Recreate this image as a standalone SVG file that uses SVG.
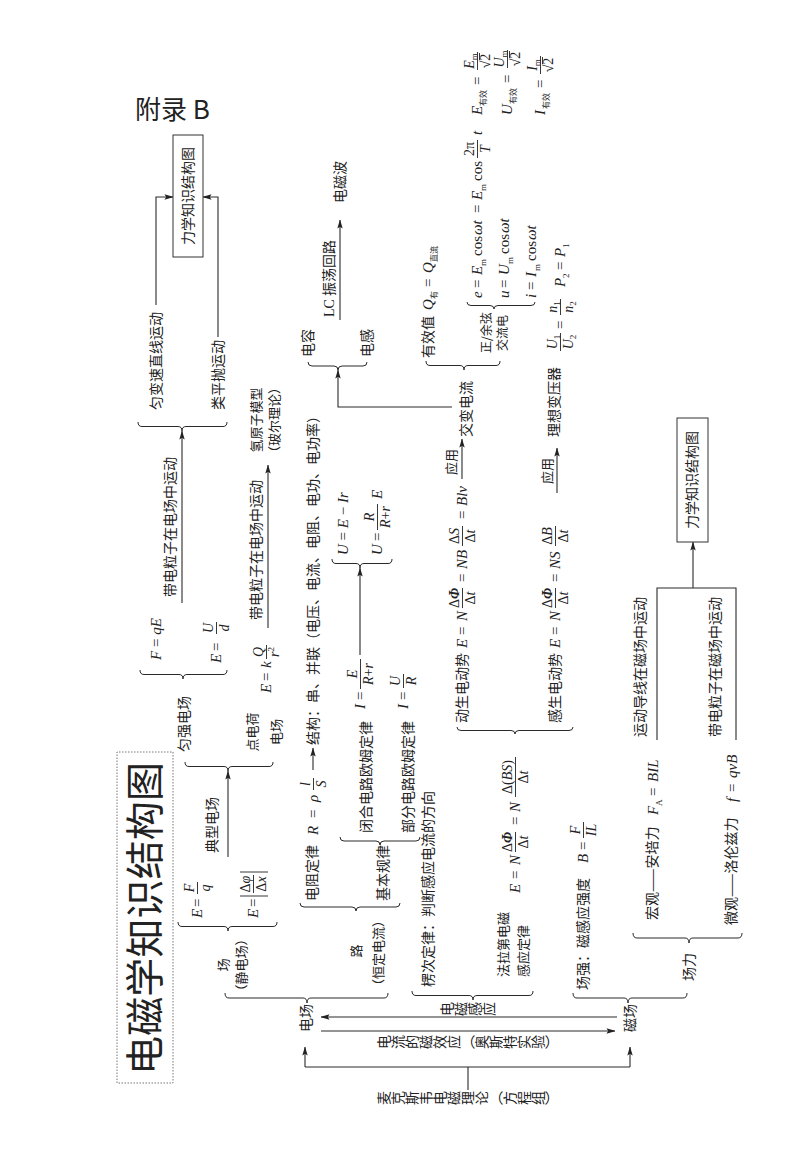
<svg xmlns="http://www.w3.org/2000/svg" width="800" height="1155" viewBox="0 0 800 1155">
<defs>
<style>
.c{font-family:'Noto Sans CJK SC','Liberation Sans',sans-serif;font-size:14px;fill:#222}
.s13{font-size:13px}
.s12{font-size:12px}
.m{font-family:'Liberation Serif','Noto Sans CJK SC',serif;font-style:italic;font-size:15px;fill:#222}
.f{font-size:14px}
.u{font-style:normal}
.sb{font-size:9px;font-style:normal}
.sc{font-family:'Noto Sans CJK SC',sans-serif;font-size:8px;font-style:normal}
.ctr{text-anchor:middle}
.v{writing-mode:vertical-rl}
.ln{fill:none;stroke:#2a2a2a;stroke-width:1.1}
.br{fill:none;stroke:#2a2a2a;stroke-width:1}
.fb{stroke:#222;stroke-width:0.9}
.ar{fill:none;stroke:#2a2a2a;stroke-width:1.1;marker-end:url(#ah)}
.box{fill:#fff;stroke:#333;stroke-width:1}
</style>
<marker id="ah" viewBox="0 0 10 6" refX="9.5" refY="3" markerWidth="9" markerHeight="5.4" orient="auto" markerUnits="userSpaceOnUse"><path d="M0,0 L10,3 L0,6 L2,3 z" fill="#222"/></marker>
</defs>
<rect width="800" height="1155" fill="#fff"/>
<g id="appendix"><text x="135" y="119" style="font-family:'Noto Sans CJK SC',sans-serif;font-size:26px;fill:#222">附录 B</text></g>
<g id="page" transform="translate(0,1155) rotate(-90)">
<g id="connectors">
<path class="ar" d="M138,617 L138,321"/>
<path class="ar" d="M124,321 L124,615"/>
<path class="ln" d="M88,305 L88,630 M88,468 L65,468"/>
<path class="ar" d="M88,305 L108,305"/>
<path class="ar" d="M88,630 L108,630"/>
<path class="ar" d="M298,228 L384,228"/>
<path class="ar" d="M552,182 L724,182"/>
<path class="ar" d="M850,156 L958,156 L958,173"/>
<path class="ar" d="M818,218 L958,218 L958,203"/>
<path class="ar" d="M527,268 L690,268"/>
<path class="ar" d="M385,313 L407,313"/>
<path class="ar" d="M500,360 L587,360"/>
<path class="ar" d="M748,452 L748,338 L785,338"/>
<path class="ar" d="M835,340 L935,340"/>
<path class="ar" d="M676,462 L716,462"/>
<path class="ar" d="M662,557 L707,557"/>
<path class="ln" d="M415,657 L567,657 L567,736 L415,736"/>
<path class="ar" d="M567,693 L613,693"/>
<path class="br" d="M162,225 Q157,225 157,229 L157,303 Q157,307 152,307 Q157,307 157,311 L157,384 Q157,388 162,388"/>
<path class="br" d="M164,412 Q159.5,412 159.5,416 L159.5,469 Q159.5,473 155,473 Q159.5,473 159.5,477 L159.5,529 Q159.5,533 164,533"/>
<path class="br" d="M162,573 Q157,573 157,577 L157,624 Q157,628 152,628 Q157,628 157,632 L157,683 Q157,687 162,687"/>
<path class="br" d="M233,178 Q228.5,178 228.5,182 L228.5,224 Q228.5,228 224,228 Q228.5,228 228.5,232 L228.5,273 Q228.5,277 233,277"/>
<path class="br" d="M393,185 Q388.5,185 388.5,189 L388.5,224 Q388.5,228 384,228 Q388.5,228 388.5,232 L388.5,269 Q388.5,273 393,273"/>
<path class="br" d="M485,140 Q480.5,140 480.5,144 L480.5,179 Q480.5,183 476,183 Q480.5,183 480.5,187 L480.5,223 Q480.5,227 485,227"/>
<path class="br" d="M733,138 Q728.5,138 728.5,142 L728.5,178 Q728.5,182 724,182 Q728.5,182 728.5,186 L728.5,223 Q728.5,227 733,227"/>
<path class="br" d="M252,300 Q248,300 248,304 L248,352 Q248,356 244,356 Q248,356 248,360 L248,396 Q248,400 252,400"/>
<path class="br" d="M318,340 Q314,340 314,344 L314,376 Q314,380 310,380 Q314,380 314,384 L314,416 Q314,420 318,420"/>
<path class="br" d="M596,332 Q591.5,332 591.5,336 L591.5,356 Q591.5,360 587,360 Q591.5,360 591.5,364 L591.5,388 Q591.5,392 596,392"/>
<path class="br" d="M793,308 Q789,308 789,312 L789,334 Q789,338 785,338 Q789,338 789,342 L789,363 Q789,367 793,367"/>
<path class="br" d="M794,426 Q789.5,426 789.5,430 L789.5,460 Q789.5,464 785,464 Q789.5,464 789.5,468 L789.5,496 Q789.5,500 794,500"/>
<path class="br" d="M853,467 Q849.5,467 849.5,471 L849.5,490 Q849.5,494 846,494 Q849.5,494 849.5,498 L849.5,531 Q849.5,535 853,535"/>
<path class="br" d="M428,457 Q424.5,457 424.5,461 L424.5,511 Q424.5,515 421,515 Q424.5,515 424.5,519 L424.5,569 Q424.5,573 428,573"/>
<path class="br" d="M222,633 Q217,633 217,637 L217,685 Q217,689 212,689 Q217,689 217,693 L217,738 Q217,742 222,742"/>
</g>
<g id="title"><rect x="72" y="117" width="331" height="56" fill="none" stroke="#777" stroke-width="1" stroke-dasharray="1.5,1.5"/><text class="c" x="80" y="159" style="font-size:39px" textLength="313">电磁学知识结构图</text></g>
<g id="n-dianchang"><text class="c" x="123" y="311">电场</text></g>
<g id="n-cichang"><text class="c" x="123" y="635">磁场</text></g>
<g id="l-emi"><text class="c v" x="146" y="440">电磁感应</text></g>
<g id="l-oersted"><text class="c v" x="113" y="377">电流的磁效应（奥斯特实验）</text></g>
<g id="n-maxwell"><text class="c v" x="57" y="377">麦克斯韦电磁理论（方程组）</text></g>
<g id="n-chang"><text class="c s13" x="183.5" y="228">场</text><text class="c s13" x="157.5" y="246">（静电场）</text></g>
<g id="f-EFq"><text class="m" y="202"><tspan x="237">E</tspan><tspan class="u" x="248">=</tspan></text><line class="fb" x1="261" y1="197.5" x2="273" y2="197.5"/><text class="m f ctr" x="267" y="194">F</text><text class="m f ctr" x="267" y="209.5">q</text></g>
<g id="f-Ephi"><text class="m" y="258"><tspan x="237">E</tspan><tspan class="u" x="248">=</tspan></text><path class="fb" d="M259,240 L259,268 M283,240 L283,268"/><line class="fb" x1="262" y1="253.5" x2="280" y2="253.5"/><text class="m f ctr" x="271" y="250"><tspan class="u">Δ</tspan>φ</text><text class="m f ctr" x="271" y="265.5"><tspan class="u">Δ</tspan>x</text></g>
<g id="l-dianxing"><text class="c" x="302" y="217">典型电场</text></g>
<g id="n-yunqiang"><text class="c" x="403" y="189">匀强电场</text></g>
<g id="n-dianhe"><text class="c s13" x="403.5" y="257">点电荷</text><text class="c s13" x="410" y="281">电场</text></g>
<g id="f-FqE"><text class="m" x="495" y="161">F <tspan class="u">=</tspan> qE</text></g>
<g id="f-EUd"><text class="m" y="221"><tspan x="492">E</tspan><tspan class="u" x="504">=</tspan></text><line class="fb" x1="521" y1="216.5" x2="533" y2="216.5"/><text class="m f ctr" x="527" y="213">U</text><text class="m f ctr" x="527" y="228.5">d</text></g>
<g id="l-dai1"><text class="c" x="558" y="175">带电粒子在电场中运动</text></g>
<g id="n-yunbian"><text class="c" x="745" y="161">匀变速直线运动</text></g>
<g id="n-leiping"><text class="c" x="745" y="223">类平抛运动</text></g>
<g id="n-lixue1"><rect class="box" x="898" y="173" width="122" height="30"/><text class="c" x="910" y="193">力学知识结构图</text></g>
<g id="f-EkQ"><text class="m" y="271"><tspan x="462">E</tspan><tspan class="u" x="474">=</tspan><tspan x="487">k</tspan></text><line class="fb" x1="496" y1="266.5" x2="510" y2="266.5"/><text class="m f ctr" x="503" y="263">Q</text><text class="m f ctr" x="503" y="278.5">r<tspan class="sb" dy="-5">2</tspan></text></g>
<g id="l-dai2"><text class="c" x="535" y="261">带电粒子在电场中运动</text></g>
<g id="n-qing"><text class="c s13" x="702.5" y="261">氢原子模型</text><text class="c s13" x="696" y="279">（玻尔理论）</text></g>
<g id="n-lu"><text class="c s13" x="197.5" y="361">路</text><text class="c s13" x="163" y="383">（恒定电流）</text></g>
<g id="n-dianzu"><text class="c" x="254" y="317">电阻定律</text><text class="m" y="318"><tspan x="320">R</tspan><tspan class="u" x="337">=</tspan><tspan x="353">ρ</tspan></text><line class="fb" x1="365" y1="313.5" x2="377" y2="313.5"/><text class="m f ctr" x="371" y="310">l</text><text class="m f ctr" x="371" y="325.5">S</text></g>
<g id="n-jiegou"><text class="c" x="410" y="318">结构：串、并联（电压、电流、电阻、电功、电功率）</text></g>
<g id="n-jiben"><text class="c" x="254" y="388">基本规律</text></g>
<g id="n-bihe"><text class="c" x="322" y="371">闭合电路欧姆定律</text><text class="m" y="365"><tspan x="446">I</tspan><tspan class="u" x="455">=</tspan></text><line class="fb" x1="466" y1="360.5" x2="496" y2="360.5"/><text class="m f ctr" x="481" y="357">E</text><text class="m f ctr" x="481" y="372.5">R<tspan class="u">+</tspan>r</text></g>
<g id="n-bufen"><text class="c" x="322" y="413">部分电路欧姆定律</text><text class="m" y="408"><tspan x="446">I</tspan><tspan class="u" x="455">=</tspan></text><line class="fb" x1="467" y1="403.5" x2="481" y2="403.5"/><text class="m f ctr" x="474" y="400">U</text><text class="m f ctr" x="474" y="415.5">R</text></g>
<g id="f-U1"><text class="m" x="600" y="348">U <tspan class="u">=</tspan> E <tspan class="u">−</tspan> Ir</text></g>
<g id="f-U2"><text class="m" y="382"><tspan x="600">U</tspan><tspan class="u" x="614">=</tspan><tspan x="656">E</tspan></text><line class="fb" x1="625" y1="377.5" x2="651" y2="377.5"/><text class="m f ctr" x="638" y="374">R</text><text class="m f ctr" x="638" y="389.5">R<tspan class="u">+</tspan>r</text></g>
<g id="n-lenci"><text class="c" x="168" y="433">楞次定律：判断感应电流的方向</text></g>
<g id="n-faladi"><text class="c s13" x="178" y="508">法拉第电磁</text><text class="c s13" x="178" y="528">感应定律</text><text class="m" y="520"><tspan x="262">E</tspan><tspan class="u" x="276">=</tspan><tspan x="290">N</tspan><tspan class="u" x="330">=</tspan><tspan x="343">N</tspan></text><line class="fb" x1="303" y1="515.5" x2="323" y2="515.5"/><text class="m f ctr" x="313" y="512"><tspan class="u">Δ</tspan><tspan font-weight="bold">Φ</tspan></text><text class="m f ctr" x="313" y="527.5"><tspan class="u">Δ</tspan>t</text><line class="fb" x1="358" y1="515.5" x2="398" y2="515.5"/><text class="m f ctr" x="378" y="512"><tspan class="u">Δ(</tspan>BS<tspan class="u">)</tspan></text><text class="m f ctr" x="378" y="527.5"><tspan class="u">Δ</tspan>t</text></g>
<g id="n-dongsheng"><text class="c" x="432" y="467">动生电动势</text><text class="m" y="467"><tspan x="507">E</tspan><tspan class="u" x="520">=</tspan><tspan x="534">N</tspan><tspan class="u" x="573">=</tspan><tspan x="586">NB</tspan><tspan class="u" x="636">=</tspan><tspan x="649">Blv</tspan></text><line class="fb" x1="547" y1="462.5" x2="567" y2="462.5"/><text class="m f ctr" x="557" y="459"><tspan class="u">Δ</tspan><tspan font-weight="bold">Φ</tspan></text><text class="m f ctr" x="557" y="474.5"><tspan class="u">Δ</tspan>t</text><line class="fb" x1="609" y1="462.5" x2="629" y2="462.5"/><text class="m f ctr" x="619" y="459"><tspan class="u">Δ</tspan>S</text><text class="m f ctr" x="619" y="474.5"><tspan class="u">Δ</tspan>t</text></g>
<g id="n-gansheng"><text class="c" x="432" y="560">感生电动势</text><text class="m" y="560"><tspan x="507">E</tspan><tspan class="u" x="520">=</tspan><tspan x="534">N</tspan><tspan class="u" x="573">=</tspan><tspan x="586">NS</tspan></text><line class="fb" x1="547" y1="555.5" x2="567" y2="555.5"/><text class="m f ctr" x="557" y="552"><tspan class="u">Δ</tspan><tspan font-weight="bold">Φ</tspan></text><text class="m f ctr" x="557" y="567.5"><tspan class="u">Δ</tspan>t</text><line class="fb" x1="609" y1="555.5" x2="629" y2="555.5"/><text class="m f ctr" x="619" y="552"><tspan class="u">Δ</tspan>B</text><text class="m f ctr" x="619" y="567.5"><tspan class="u">Δ</tspan>t</text></g>
<g id="l-yingyong1"><text class="c s13" x="680" y="456">应用</text></g>
<g id="l-yingyong2"><text class="c s13" x="671" y="552">应用</text></g>
<g id="n-jiaobian"><text class="c" x="718" y="471">交变电流</text></g>
<g id="n-lixiang"><text class="c" x="718" y="559">理想变压器</text></g>
<g id="f-trans"><line class="fb" x1="804" y1="560.5" x2="822" y2="560.5"/><text class="m f ctr" x="813" y="557">U<tspan class="sb" dy="3">1</tspan></text><text class="m f ctr" x="813" y="572.5">U<tspan class="sb" dy="3">2</tspan></text><text class="m u" x="826" y="565">=</text><line class="fb" x1="840" y1="560.5" x2="856" y2="560.5"/><text class="m f ctr" x="848" y="557">n<tspan class="sb" dy="3">1</tspan></text><text class="m f ctr" x="848" y="572.5">n<tspan class="sb" dy="3">2</tspan></text><text class="m" y="565"><tspan x="868">P</tspan><tspan class="sb" x="877" dy="4">2</tspan><tspan class="u" x="885" dy="-4">=</tspan><tspan x="898">P</tspan><tspan class="sb" x="907" dy="4">1</tspan></text></g>
<g id="n-youxiao"><text class="c" x="797" y="433">有效值</text><text class="m" y="433"><tspan x="845">Q</tspan><tspan class="sc" x="856" dy="4">有</tspan><tspan class="u" x="868" dy="-4">=</tspan><tspan x="882">Q</tspan><tspan class="sc" x="893" dy="4">直流</tspan></text></g>
<g id="n-zhengxian"><text class="c s12" x="802" y="491">正/余弦</text><text class="c s12" x="804" y="507">交流电</text></g>
<g id="f-e"><text class="m" y="482"><tspan x="857">e</tspan><tspan class="u" x="867">=</tspan><tspan x="880">E</tspan><tspan class="sb" x="889" dy="4">m</tspan><tspan class="u" x="899" dy="-4">cos</tspan><tspan x="920">ωt</tspan><tspan class="u" x="942">=</tspan><tspan x="955">E</tspan><tspan class="sb" x="964" dy="4">m</tspan><tspan class="u" x="974" dy="-4">cos</tspan><tspan x="1020">t</tspan></text><line class="fb" x1="997" y1="477.5" x2="1015" y2="477.5"/><text class="m f ctr u" x="1006" y="474">2π</text><text class="m f ctr" x="1006" y="489.5">T</text></g>
<g id="f-u"><text class="m" y="509"><tspan x="857">u</tspan><tspan class="u" x="867">=</tspan><tspan x="880">U</tspan><tspan class="sb" x="891" dy="4">m</tspan><tspan class="u" x="901" dy="-4">cos</tspan><tspan x="922">ωt</tspan></text></g>
<g id="f-i"><text class="m" y="536"><tspan x="857">i</tspan><tspan class="u" x="865">=</tspan><tspan x="878">I</tspan><tspan class="sb" x="884" dy="4">m</tspan><tspan class="u" x="894" dy="-4">cos</tspan><tspan x="915">ωt</tspan></text></g>
<g id="f-Eeff"><text class="m" y="482"><tspan x="1040">E</tspan><tspan class="sc" x="1049" dy="4">有效</tspan><tspan class="u" x="1070" dy="-4">=</tspan></text><line class="fb" x1="1085" y1="477.5" x2="1103" y2="477.5"/><text class="m f ctr" x="1094" y="474">E<tspan class="sb" dy="3">m</tspan></text><text class="m f ctr u" x="1094" y="490">√2</text><line class="fb" x1="1095" y1="479.5" x2="1102" y2="479.5"/></g>
<g id="f-Ueff"><text class="m" y="512"><tspan x="1040">U</tspan><tspan class="sc" x="1051" dy="4">有效</tspan><tspan class="u" x="1072" dy="-4">=</tspan></text><line class="fb" x1="1087" y1="507.5" x2="1105" y2="507.5"/><text class="m f ctr" x="1096" y="504">U<tspan class="sb" dy="3">m</tspan></text><text class="m f ctr u" x="1096" y="520">√2</text><line class="fb" x1="1097" y1="509.5" x2="1104" y2="509.5"/></g>
<g id="f-Ieff"><text class="m" y="545"><tspan x="1040">I</tspan><tspan class="sc" x="1046" dy="4">有效</tspan><tspan class="u" x="1067" dy="-4">=</tspan></text><line class="fb" x1="1081" y1="540.5" x2="1099" y2="540.5"/><text class="m f ctr" x="1090" y="537">I<tspan class="sb" dy="3">m</tspan></text><text class="m f ctr u" x="1090" y="553">√2</text><line class="fb" x1="1091" y1="542.5" x2="1098" y2="542.5"/></g>
<g id="n-dianrong"><text class="c" x="798" y="313">电容</text></g>
<g id="n-diangan"><text class="c" x="798" y="372">电感</text></g>
<g id="l-lc"><text class="c" x="838" y="334"><tspan style="font-family:'Liberation Serif',serif">LC</tspan> 振荡回路</text></g>
<g id="n-dcb"><text class="c" x="952" y="345">电磁波</text></g>
<g id="n-changqiang"><text class="c" x="165" y="588">场强：磁感应强度</text><text class="m" y="588"><tspan x="292">B</tspan><tspan class="u" x="305">=</tspan></text><line class="fb" x1="317" y1="583.5" x2="333" y2="583.5"/><text class="m f ctr" x="325" y="580">F</text><text class="m f ctr" x="325" y="595.5">IL</text></g>
<g id="n-changli"><text class="c" x="174" y="694">场力</text></g>
<g id="n-hongguan"><text class="c" x="235" y="657">宏观——安培力</text><text class="m" y="658"><tspan x="340">F</tspan><tspan class="sb" x="349" dy="4">A</tspan><tspan class="u" x="359" dy="-4">=</tspan><tspan x="373">BIL</tspan></text></g>
<g id="n-weiguan"><text class="c" x="230" y="736">微观——洛伦兹力</text><text class="m" y="737"><tspan x="353">f</tspan><tspan class="u" x="363">=</tspan><tspan x="377">qvB</tspan></text></g>
<g id="l-daoxian"><text class="c" x="418" y="645">运动导线在磁场中运动</text></g>
<g id="l-dai3"><text class="c" x="418" y="720">带电粒子在磁场中运动</text></g>
<g id="n-lixue2"><rect class="box" x="613" y="677" width="124" height="31"/><text class="c" x="626" y="697">力学知识结构图</text></g>
</g>
</svg>
